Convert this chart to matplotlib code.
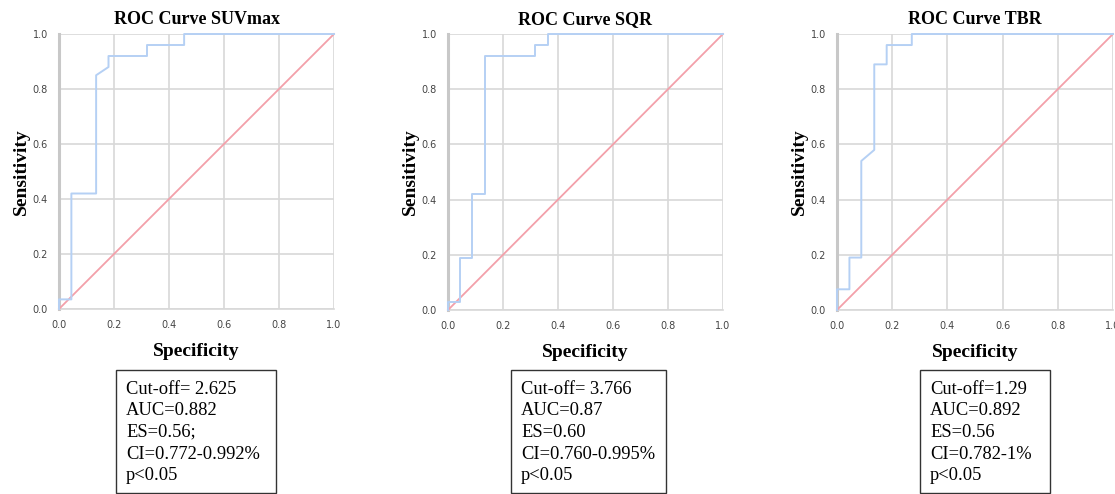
import matplotlib.pyplot as plt
from matplotlib.patches import Rectangle

plt.rcParams["font.family"] = "DejaVu Sans"

# data
titles = ["ROC Curve SUVmax", "ROC Curve SQR", "ROC Curve TBR"]

suv_x = [0, 0.0, 0.045, 0.045, 0.135, 0.135, 0.18, 0.18, 0.32, 0.32, 0.455, 0.455, 1.0]
suv_y = [0, 0.035, 0.035, 0.42, 0.42, 0.85, 0.88, 0.92, 0.92, 0.96, 0.96, 1.0, 1.0]

sqr_x = [0, 0.0, 0.042, 0.042, 0.087, 0.087, 0.135, 0.135, 0.317, 0.317, 0.363, 0.363, 1.0]
sqr_y = [0, 0.03, 0.03, 0.19, 0.19, 0.42, 0.42, 0.92, 0.92, 0.96, 0.96, 1.0, 1.0]

tbr_x = [0, 0.0, 0.045, 0.045, 0.088, 0.088, 0.135, 0.135, 0.18, 0.18, 0.271, 0.271, 1.0]
tbr_y = [0, 0.075, 0.075, 0.19, 0.19, 0.54, 0.58, 0.89, 0.89, 0.96, 0.96, 1.0, 1.0]

curves_x = [suv_x, sqr_x, tbr_x]
curves_y = [suv_y, sqr_y, tbr_y]
ref_line = [0, 1]
ticks = [0.0, 0.2, 0.4, 0.6, 0.8, 1.0]

box_texts = [
    ["Cut-off= 2.625", "AUC=0.882", "ES=0.56;", "CI=0.772-0.992%", "p<0.05"],
    ["Cut-off= 3.766", "AUC=0.87", "ES=0.60", "CI=0.760-0.995%", "p<0.05"],
    ["Cut-off=1.29", "AUC=0.892", "ES=0.56", "CI=0.782-1%", "p<0.05"],
]

W, H = 1115, 494
fig = plt.figure(figsize=(W / 100, H / 100), dpi=100)

# axes boxes in pixels (left, top, right, bottom)
ax_px = [(59, 34, 334, 309), (448, 34, 723, 310), (837, 34, 1113, 310)]
box_px = [(116, 370, 276, 493), (511, 370, 666, 493), (920, 370, 1050, 493)]

blue = "#b5d0f4"
pink = "#f3a0aa"
serif = "Liberation Serif"

for i in range(3):
    l, t, r, b = ax_px[i]
    ax = fig.add_axes([l / W, 1 - b / H, (r - l) / W, (b - t) / H])
    ax.set_xlim(0, 1)
    ax.set_ylim(0, 1)
    ax.set_xticks(ticks)
    ax.set_yticks(ticks)
    ax.set_xticklabels(["%.1f" % v for v in ticks])
    ax.set_yticklabels(["%.1f" % v for v in ticks])
    ax.grid(True, color="#d8d8d8", lw=1.2)
    ax.set_axisbelow(True)
    ax.tick_params(length=0, labelsize=7, labelcolor="#444444", pad=8)
    for s in ["top", "right"]:
        ax.spines[s].set_visible(False)
    ax.spines["left"].set_color("#c8c8c8")
    ax.spines["left"].set_linewidth(2.2)
    ax.spines["bottom"].set_color("#d8d8d8")
    ax.spines["bottom"].set_linewidth(1.2)

    ax.plot(ref_line, ref_line, color=pink, lw=1.3, clip_on=False, zorder=3)
    ax.plot(curves_x[i], curves_y[i], color=blue, lw=1.4, clip_on=False, zorder=4)

    ax.set_title(titles[i], fontfamily=serif, fontweight="bold", fontsize=13, pad=7)
    ax.set_xlabel("Specificity", fontfamily=serif, fontweight="bold", fontsize=14, labelpad=9)
    ax.set_ylabel("Sensitivity", fontfamily=serif, fontweight="bold", fontsize=14, labelpad=2)

    # stats box
    bl, bt, br, bb = box_px[i]
    fig.patches.append(Rectangle((bl / W, 1 - bb / H), (br - bl) / W, (bb - bt) / H,
                                 transform=fig.transFigure, fill=False,
                                 edgecolor="#333333", lw=1.0))
    for j, line in enumerate(box_texts[i]):
        fig.text((bl + 10) / W, 1 - (389 + j * 21.7) / H, line,
                 fontfamily=serif, fontsize=13.3, va="center", ha="left")

fig.savefig("out.png", dpi=100)
